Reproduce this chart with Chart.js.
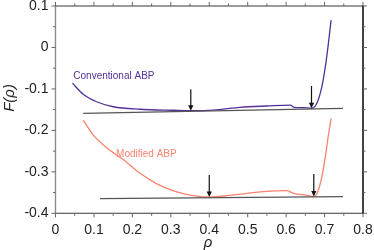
<!DOCTYPE html>
<html>
<head>
<meta charset="utf-8">
<script src="https://cdn.jsdelivr.net/npm/chart.js@4.4.1/dist/chart.umd.min.js"></script>
<style>
  html, body { margin: 0; padding: 0; background: #fff; overflow: hidden; }
  #wrap { width: 374px; height: 250px; position: relative; }
</style>
</head>
<body>
<div id="wrap"><canvas id="plotF"></canvas></div>
<script>
// Curva convencional
const convRho = [0.044, 0.072, 0.107, 0.150, 0.220, 0.307, 0.352, 0.411, 0.480, 0.550, 0.611, 0.621, 0.645, 0.666, 0.680, 0.693, 0.702, 0.710, 0.717];
const convF = [-0.086, -0.113, -0.131, -0.143, -0.149, -0.1515, -0.1525, -0.151, -0.1445, -0.1412, -0.139, -0.1443, -0.1453, -0.1465, -0.1347, -0.0946, -0.0464, 0.010, 0.066];

// Curva modificada
const modRho = [0.072, 0.098, 0.133, 0.177, 0.220, 0.264, 0.307, 0.350, 0.400, 0.446, 0.498, 0.550, 0.602, 0.619, 0.654, 0.673, 0.684, 0.693, 0.702, 0.710, 0.717];
const modF = [-0.175, -0.211, -0.242, -0.271, -0.3035, -0.329, -0.346, -0.356, -0.3607, -0.3576, -0.3518, -0.347, -0.3455, -0.3518, -0.3566, -0.3595, -0.3438, -0.3117, -0.2635, -0.2111, -0.171];

// Tangentes comunes
const tanConvRho = [0.072, 0.748];
const tanConvF = [-0.1588, -0.1467];
const tanModRho = [0.116, 0.748];
const tanModF = [-0.3648, -0.3600];

// Flechas (x, inicio, punta)
const arrowRho = [0.352, 0.666, 0.400, 0.672];
const arrowFrom = [-0.101, -0.093, -0.3076, -0.3052];
const arrowTo = [-0.1525, -0.1465, -0.3607, -0.3595];

// Etiquetas de curvas
const curveLabels = ['Conventional ABP', 'Modified ABP'];
const labelRho = [0.0464, 0.1576];
const labelF = [-0.0705, -0.257];

const purple = '#54309a';
const salmon = '#fb8270';
const tickFont = { family: '"Liberation Sans", Arial, sans-serif', size: 14 };

const toXY = (xs, ys) => xs.map((x, i) => ({ x: x, y: ys[i] }));
const fmt = (v) => { const r = Math.round(v * 10) / 10; return r === 0 ? '0' : r.toFixed(1); };

// marco, ticks, flechas y textos
const frame = {
    id: 'frame',
    afterDraw(chart) {
        const ctx = chart.ctx;
        const xs = chart.scales.x, ys = chart.scales.y;
        const L = xs.getPixelForValue(0), R = xs.getPixelForValue(0.8);
        const T = ys.getPixelForValue(0.1), B = ys.getPixelForValue(-0.4);
        ctx.save();
        ctx.fillStyle = '#5a5a5a';
        ctx.fillRect(L, T - 0.6, R - L, 1.2);
        ctx.fillRect(L, B - 0.6, R - L, 1.2);
        ctx.fillStyle = '#8a8a8a';
        ctx.fillRect(L - 0.7, T - 0.6, 1.4, B - T + 1.2);
        ctx.fillStyle = '#151515';
        ctx.fillRect(R - 0.8, T - 0.6, 1.6, B - T + 1.2);

        ctx.fillStyle = '#666';
        for (let k = 0; k <= 16; k++) {
            const tx = xs.getPixelForValue(k * 0.05);
            const len = k % 2 === 0 ? 4 : 2.5;
            ctx.fillRect(tx - 0.5, B, 1, len);
            ctx.fillRect(tx - 0.5, T - len, 1, len);
        }
        for (let k = 0; k <= 10; k++) {
            const ty = ys.getPixelForValue(-0.4 + k * 0.05);
            const len = k % 2 === 0 ? 4 : 2.5;
            ctx.fillRect(L - len, ty - 0.5, len, 1);
            ctx.fillRect(R, ty - 0.5, len, 1);
        }

        ctx.fillStyle = '#111';
        arrowRho.forEach((r, i) => {
            const ax = xs.getPixelForValue(r);
            const y0 = ys.getPixelForValue(arrowFrom[i]);
            const y1 = ys.getPixelForValue(arrowTo[i]);
            ctx.fillRect(ax - 0.6, y0, 1.2, y1 - y0 - 4);
            ctx.beginPath();
            ctx.moveTo(ax - 2.6, y1 - 5.5);
            ctx.lineTo(ax + 2.6, y1 - 5.5);
            ctx.lineTo(ax, y1);
            ctx.closePath();
            ctx.fill();
        });

        ctx.font = '10px "Liberation Sans", Arial, sans-serif';
        ctx.textBaseline = 'middle';
        ctx.textAlign = 'left';
        ctx.fillStyle = purple;
        ctx.fillText(curveLabels[0], xs.getPixelForValue(labelRho[0]), ys.getPixelForValue(labelF[0]));
        ctx.fillStyle = salmon;
        ctx.fillText(curveLabels[1], xs.getPixelForValue(labelRho[1]), ys.getPixelForValue(labelF[1]));

        ctx.fillStyle = '#222';
        ctx.font = 'italic 15px "Liberation Sans", Arial, sans-serif';
        ctx.textAlign = 'center';
        ctx.fillText('\u03C1', 208, 243);
        ctx.translate(10, 98);
        ctx.rotate(-Math.PI / 2);
        ctx.fillText('F(\u03C1)', 0, 0);
        ctx.restore();
    }
};

new Chart(document.getElementById('plotF'), {
    type: 'scatter',
    data: { datasets: [
        { data: toXY(tanConvRho, tanConvF), borderColor: '#555', borderWidth: 1.2, showLine: true, pointRadius: 0 },
        { data: toXY(tanModRho, tanModF), borderColor: '#555', borderWidth: 1.2, showLine: true, pointRadius: 0 },
        { data: toXY(convRho, convF), borderColor: purple, borderWidth: 1.3, showLine: true, pointRadius: 0, cubicInterpolationMode: 'monotone' },
        { data: toXY(modRho, modF), borderColor: salmon, borderWidth: 1.3, showLine: true, pointRadius: 0, cubicInterpolationMode: 'monotone' }
    ] },
    options: {
        responsive: true, maintainAspectRatio: false, animation: false,
        layout: { padding: { top: 6, right: 11, left: 0, bottom: 0 } },
        plugins: { legend: { display: false }, tooltip: { enabled: false } },
        scales: {
            x: { type: 'linear', min: 0, max: 0.8, grid: { display: false, drawTicks: false }, border: { display: false },
                 ticks: { stepSize: 0.1, padding: 8, maxRotation: 0, color: '#222', font: tickFont, callback: fmt },
                 afterFit: (s) => { s.height = 36.7; s.paddingLeft = 0; s.paddingRight = 0; } },
            y: { type: 'linear', min: -0.4, max: 0.1, grid: { display: false, drawTicks: false }, border: { display: false },
                 ticks: { stepSize: 0.1, padding: 7, color: '#222', font: tickFont, callback: fmt },
                 afterFit: (s) => { s.width = 55.5; s.paddingTop = 0; s.paddingBottom = 0; } }
        }
    },
    plugins: [frame]
});
</script>
</body>
</html>
